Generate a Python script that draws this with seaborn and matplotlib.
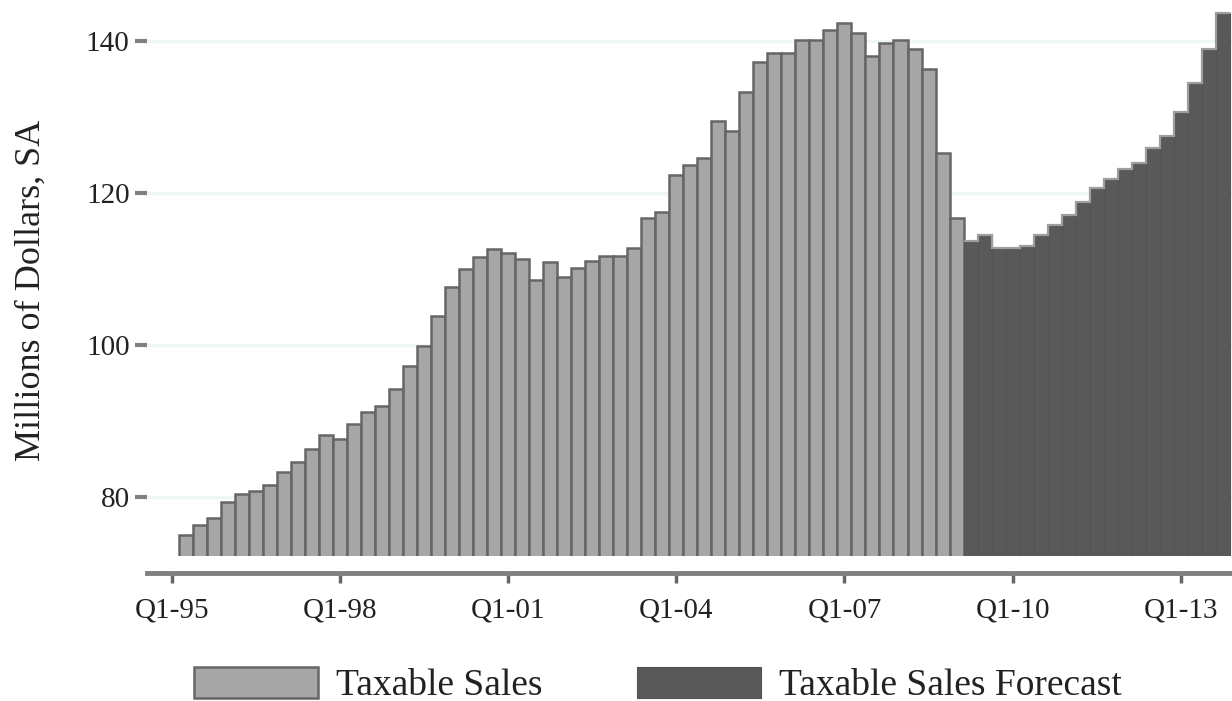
import numpy as np
import pandas as pd
import matplotlib
matplotlib.use("Agg")
import matplotlib.pyplot as plt
import seaborn as sns

# ---------------- data ----------------
series_names = ["Taxable Sales", "Taxable Sales Forecast"]

# quarterly values, Q2-95 .. Q1-09 (historical)
hist_values = [
    75.0, 76.4, 77.3, 79.4, 80.4, 80.8, 81.7, 83.4, 84.7, 86.4,
    88.2, 87.7, 89.6, 91.2, 92.0, 94.3, 97.3, 99.9, 103.9, 107.7,
    110.0, 111.6, 112.6, 112.1, 111.3, 108.6, 110.9, 109.0, 110.2, 111.1,
    111.8, 111.8, 112.8, 116.7, 117.5, 122.4, 123.7, 124.6, 129.5, 128.2,
    133.3, 137.2, 138.4, 138.4, 140.2, 140.2, 141.5, 142.4, 141.1, 138.1,
    139.8, 140.2, 138.9, 136.3, 125.3, 116.7,
]
# quarterly values, Q2-09 .. Q4-13 (forecast)
forecast_values = [
    113.7, 114.5, 112.8, 112.8, 113.1, 114.5, 115.8, 117.1, 118.8, 120.7,
    121.9, 123.2, 124.0, 125.9, 127.5, 130.7, 134.5, 138.9, 143.7,
]

first_quarter = 1  # quarters after Q1-95 at which the data begins (Q2-95)
tick_labels = ["Q1-95", "Q1-98", "Q1-01", "Q1-04", "Q1-07", "Q1-10", "Q1-13"]
yticks = [80, 100, 120, 140]

# quarter index (0 = Q1-95)
hist_idx = np.arange(first_quarter, first_quarter + len(hist_values))
fc_idx = np.arange(hist_idx[-1] + 1, hist_idx[-1] + 1 + len(forecast_values))
quarter_names = lambda idx: [f"Q{i % 4 + 1}-{(95 + i // 4) % 100:02d}" for i in idx]

df_hist = pd.DataFrame({"q": hist_idx, "label": quarter_names(hist_idx),
                        "value": hist_values, "series": series_names[0]})
df_fc = pd.DataFrame({"q": fc_idx, "label": quarter_names(fc_idx),
                      "value": forecast_values, "series": series_names[1]})

# ---------------- style ----------------
sns.set_theme(style="white")
plt.rcParams["font.family"] = ["Liberation Serif", "DejaVu Serif"]

light = "#a6a6a6"
light_edge = "#666666"
dark = "#595959"
dark_edge = "#545454"

fig = plt.figure(figsize=(12.32, 7.01), dpi=100)
ax = fig.add_axes([147 / 1232, (701 - 556) / 701, 1085 / 1232, 556 / 701])

sns.barplot(data=df_hist, x="q", y="value", native_scale=True, color=light,
            saturation=1, width=1.0, edgecolor=light_edge, linewidth=1.8,
            errorbar=None, ax=ax, label=series_names[0])
sns.barplot(data=df_fc, x="q", y="value", native_scale=True, color=dark,
            saturation=1, width=1.0, edgecolor=dark_edge, linewidth=0.8,
            errorbar=None, ax=ax, label=series_names[1])
# light outline along top of forecast bars
ax.stairs(df_fc["value"].values, np.append(fc_idx - 0.5, fc_idx[-1] + 0.5),
          baseline=None, color="#9e9e9e", linewidth=1.6, zorder=5)

ax.set_xlim(-1.78, 75.66)
ax.set_ylim(72.3, 145.4)

ax.set_xticks(np.arange(len(tick_labels)) * 12)
ax.set_xticklabels(tick_labels)
ax.set_yticks(yticks)
ax.set_yticklabels([str(v) for v in yticks])
ax.set_xlabel("")
ax.set_ylabel("")

ax.set_axisbelow(True)
ax.yaxis.grid(True, color="#f0f5f7", linewidth=2.5)
ax.xaxis.grid(False)

for s in ["left", "top", "right"]:
    ax.spines[s].set_visible(False)
ax.spines["bottom"].set_position(("outward", 12))
ax.spines["bottom"].set_color("#808080")
ax.spines["bottom"].set_linewidth(3.5)

ax.tick_params(axis="x", bottom=True, length=7, width=2.5, color="#666666",
               labelsize=21, pad=11, labelcolor="#222222")
ax.tick_params(axis="y", left=True, length=8.5, width=3, color="#808080",
               labelsize=21, pad=4, labelcolor="#222222")

fig.text(31 / 1232, 1 - 290 / 701, "Millions of Dollars, SA", rotation=90,
         ha="center", va="center", fontsize=26, color="#222222")

handles, labels = ax.get_legend_handles_labels()
if ax.get_legend() is not None:
    ax.get_legend().remove()
fig.legend(handles[:2], labels[:2], loc="center",
           bbox_to_anchor=(658 / 1232, 1 - 685 / 701), ncol=2, frameon=False,
           fontsize=27, handlelength=3.3, handleheight=0.9, handletextpad=0.5,
           columnspacing=2.5, labelcolor="#222222")

fig.savefig("out.png", dpi=100)
